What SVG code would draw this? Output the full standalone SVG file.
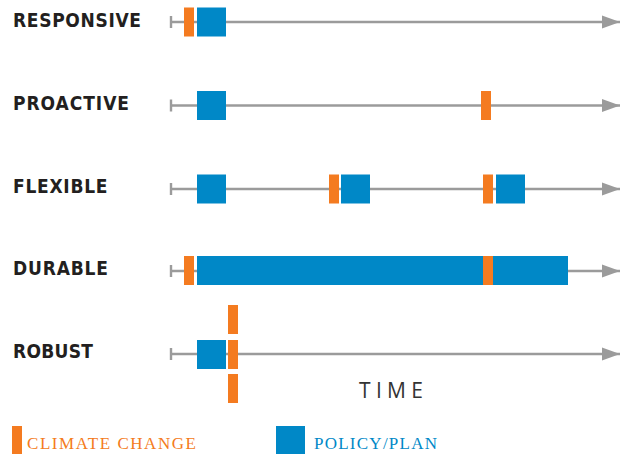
<svg xmlns="http://www.w3.org/2000/svg" width="621" height="455" viewBox="0 0 621 455">
  <style>
    .axis { stroke: #9b9b9b; stroke-width: 2.4; fill: none; }
    .tick { stroke: #9b9b9b; stroke-width: 2.4; }
    .cc { fill: #f47b20; }
    .pp { fill: #0088c7; }
    .lbl { font-family: "DejaVu Sans Condensed", "DejaVu Sans", "Liberation Sans", sans-serif; font-weight: bold; font-size: 19px; fill: #231f20; }
    .time { font-family: "Open Sans", "Liberation Sans", sans-serif; font-size: 21px; fill: #333333; }
    .leg { font-family: "Liberation Serif", "Times New Roman", serif; font-size: 17px; }
  </style>
  <defs>
    <marker id="arrow" markerUnits="userSpaceOnUse" markerWidth="19" markerHeight="14" refX="18" refY="7" orient="auto">
      <polygon points="0,0.5 18,7 0,13.5" fill="#9b9b9b"/>
    </marker>
  </defs>

  <g id="connectors">
    <line class="axis" x1="171" y1="22" x2="620" y2="22" marker-end="url(#arrow)"/>
    <line class="tick" x1="171" y1="16" x2="171" y2="28"/>
    <line class="axis" x1="171" y1="105.5" x2="620" y2="105.5" marker-end="url(#arrow)"/>
    <line class="tick" x1="171" y1="99.5" x2="171" y2="111.5"/>
    <line class="axis" x1="171" y1="189" x2="620" y2="189" marker-end="url(#arrow)"/>
    <line class="tick" x1="171" y1="183" x2="171" y2="195"/>
    <line class="axis" x1="171" y1="271" x2="620" y2="271" marker-end="url(#arrow)"/>
    <line class="tick" x1="171" y1="265" x2="171" y2="277"/>
    <line class="axis" x1="171" y1="354" x2="620" y2="354" marker-end="url(#arrow)"/>
    <line class="tick" x1="171" y1="348" x2="171" y2="360"/>
  </g>

  <g id="responsive">
    <text class="lbl" x="13" y="27" textLength="128" lengthAdjust="spacing">RESPONSIVE</text>
    <rect class="cc" x="184" y="7.5" width="10" height="29"/>
    <rect class="pp" x="197" y="7.5" width="29" height="29"/>
  </g>

  <g id="proactive">
    <text class="lbl" x="13" y="110" textLength="116" lengthAdjust="spacing">PROACTIVE</text>
    <rect class="pp" x="197" y="91" width="29" height="29"/>
    <rect class="cc" x="481" y="91" width="10" height="29"/>
  </g>

  <g id="flexible">
    <text class="lbl" x="13" y="193" textLength="94.5" lengthAdjust="spacing">FLEXIBLE</text>
    <rect class="pp" x="197" y="174.5" width="29" height="29"/>
    <rect class="cc" x="329" y="174.5" width="10" height="29"/>
    <rect class="pp" x="341" y="174.5" width="29" height="29"/>
    <rect class="cc" x="483" y="174.5" width="10" height="29"/>
    <rect class="pp" x="496" y="174.5" width="29" height="29"/>
  </g>

  <g id="durable">
    <text class="lbl" x="13" y="275" textLength="95" lengthAdjust="spacing">DURABLE</text>
    <rect class="cc" x="184" y="256" width="10" height="29"/>
    <rect class="pp" x="197" y="256" width="371" height="29"/>
    <rect class="cc" x="483" y="256" width="10" height="29"/>
  </g>

  <g id="robust">
    <text class="lbl" x="13" y="358" textLength="80" lengthAdjust="spacing">ROBUST</text>
    <rect class="pp" x="197" y="340" width="29" height="29"/>
    <rect class="cc" x="228" y="305" width="10" height="29"/>
    <rect class="cc" x="228" y="340" width="10" height="29"/>
    <rect class="cc" x="228" y="374" width="10" height="29"/>
  </g>

  <g id="time-label">
    <text class="time" x="359" y="398" textLength="64" lengthAdjust="spacing">TIME</text>
  </g>

  <g id="legend-climate">
    <rect class="cc" x="12" y="426" width="10" height="28"/>
    <text class="leg" x="27" y="449" fill="#f47b20" textLength="169" lengthAdjust="spacing">CLIMATE CHANGE</text>
  </g>

  <g id="legend-policy">
    <rect class="pp" x="276" y="426" width="29" height="28"/>
    <text class="leg" x="314" y="449" fill="#0088c7" textLength="123" lengthAdjust="spacing">POLICY/PLAN</text>
  </g>
</svg>
